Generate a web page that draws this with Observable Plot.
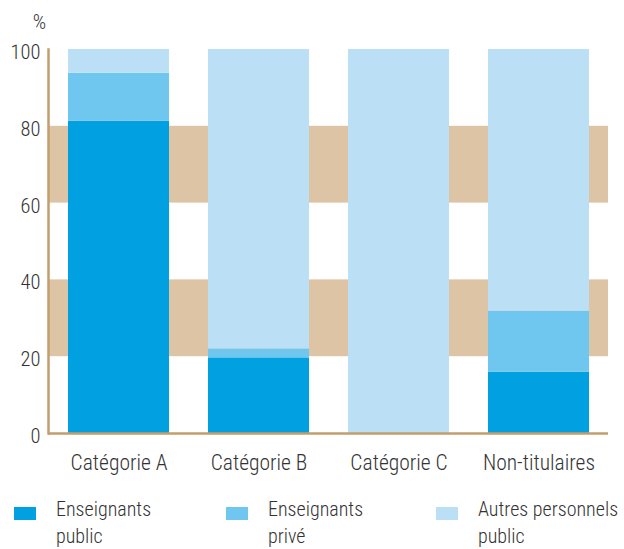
<!DOCTYPE html>
<html><head><meta charset="utf-8">
<script src="https://cdn.jsdelivr.net/npm/d3@7"></script>
<script src="https://cdn.jsdelivr.net/npm/@observablehq/plot@0.6"></script>
<style>
body{margin:0;background:#fff;font-family:"Roboto Condensed",sans-serif;font-weight:300;color:#333;}
#wrap{width:624px;position:relative;}
#legend{position:relative;width:624px;height:59px;}
.sw{position:absolute;width:22px;height:13px;top:17px;}
.lab{position:absolute;top:6px;font-size:20px;line-height:27px;white-space:nowrap;color:#333;font-weight:300;}
svg text{font-weight:300;}
</style></head>
<body><div id="wrap"></div>
<script>
const categories = ["Catégorie A","Catégorie B","Catégorie C","Non-titulaires"];
const seriesNames = ["Enseignants public","Enseignants privé","Autres personnels public"];
const legendLines = [["Enseignants","public"],["Enseignants","privé"],["Autres personnels","public"]];
const colors = ["#00a0e1","#6fc6ee","#bbe0f6"];
const enseignantsPublic = [81.3, 19.7, 0, 16];
const enseignantsPrive = [12.5, 2.3, 0, 15.8];
const autresPublic = [6.2, 78, 100, 68.2];
const yTicks = [0,20,40,60,80,100];
const yUnit = "%";
const bandLo = [20,60];
const bandHi = [40,80];

const seriesValues = [enseignantsPublic, enseignantsPrive, autresPublic];
const data = [];
categories.forEach((c,i)=>seriesNames.forEach((s,j)=>data.push({cat:c, series:s, value:seriesValues[j][i]})));
const bands = bandLo.map((lo,i)=>({lo, hi:bandHi[i]}));

const chart = Plot.plot({
  width:624, height:490,
  marginLeft:48, marginRight:16, marginTop:49, marginBottom:57,
  style:{fontFamily:'"Roboto Condensed",sans-serif', fontSize:"20.5px", color:"#333", background:"#fff"},
  x:{domain:categories, paddingInner:0.281, paddingOuter:0.137, label:null},
  y:{domain:[0,100], label:null},
  color:{domain:seriesNames, range:colors},
  marks:[
    Plot.rect(bands,{y1:"lo", y2:"hi", fill:"#dcc4a4"}),
    Plot.barY(data,{x:"cat", y:"value", fill:"series", order:seriesNames}),
    Plot.ruleY([0],{stroke:"#c29e6c", strokeWidth:2.5}),
    Plot.frame({anchor:"left", stroke:"#c29e6c", strokeWidth:2.5}),
    Plot.axisY({ticks:yTicks, tickSize:0, tickPadding:8, dy:3, fill:"#333", label:null}),
    Plot.text([yUnit],{text:d=>d, frameAnchor:"top-left", textAnchor:"middle", lineAnchor:"middle", dx:-9, dy:-27, fill:"#333", fontSize:21}),
    Plot.axisX({tickSize:0, tickPadding:21, label:null, fill:"#333", fontSize:21.5})
  ]
});
const wrap = document.getElementById("wrap");
wrap.appendChild(chart);

const legend = document.createElement("div");
legend.id = "legend";
const swX = [14, 226, 436];
const labX = [56, 268, 478];
seriesNames.forEach((s,i)=>{
  const sw = document.createElement("div");
  sw.className = "sw"; sw.style.left = swX[i]+"px"; sw.style.background = colors[i];
  const lab = document.createElement("div");
  lab.className = "lab"; lab.style.left = labX[i]+"px";
  lab.innerHTML = legendLines[i].join("<br>");
  legend.appendChild(sw); legend.appendChild(lab);
});
wrap.appendChild(legend);
</script></body></html>
